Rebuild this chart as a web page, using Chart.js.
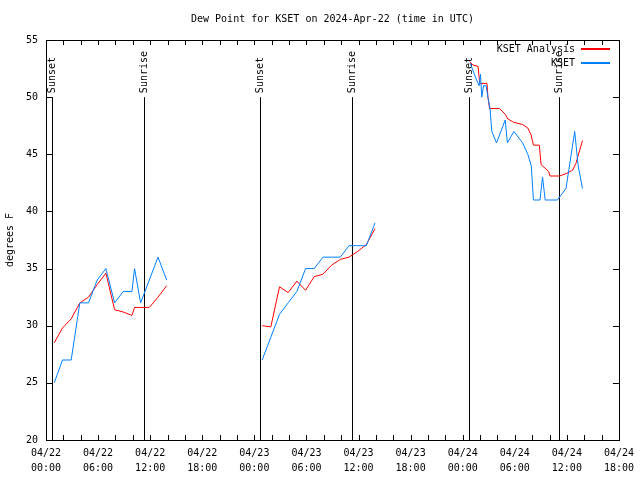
<!DOCTYPE html>
<html>
<head>
<meta charset="utf-8">
<title>Dew Point for KSET</title>
<script src="https://cdn.jsdelivr.net/npm/chart.js@4/dist/chart.umd.min.js"></script>
<style>
  html, body { margin: 0; padding: 0; background: #fff; }
  canvas { display: block; }
</style>
</head>
<body>
<canvas id="dew" width="640" height="480"></canvas>
<script>
// ---- data: hours since 04/22 00:00 UTC, null = gap between days ----
const obsHours = [0.95, 1.9, 2.9, 3.9, 4.9, 5.9, 6.9, 7.9, 8.9, 9.9, 10.2, 10.9, 11.9, 12.9, 13.9,
  19,
  24.9, 25.9, 26.9, 27.9, 28.9, 29.9, 30.9, 31.9, 32.9, 33.9, 34.9, 35.9, 36.9, 37.9,
  43,
  48.85, 49.6, 49.9, 50.05, 50.2, 50.4, 50.7, 50.9, 51.15, 51.35, 51.9, 52.9, 53.15, 53.9, 54.9,
  55.5, 55.9, 56.15, 56.9, 57.2, 57.5, 57.9, 58.9, 59.9, 60.9, 61.3, 61.8];
const obsDew = [25, 27, 27, 32, 32, 34, 35, 32, 33, 33, 35, 32, 34, 36, 34,
  null,
  27, 29, 31, 32, 33, 35, 35, 36, 36, 36, 37, 37, 37, 39,
  null,
  53, 51.5, 51, 52, 50, 51, 51, 50, 49, 47, 46, 48, 46, 47, 46,
  45, 44, 41, 41, 43, 41, 41, 41, 42, 47, 44, 42];

const anaHours = [0.95, 1.9, 2.9, 3.9, 4.9, 5.9, 6.9, 7.9, 8.9, 9.9, 10.2, 10.9, 11.9, 12.9, 13.9,
  19,
  24.9, 25.9, 26.9, 27.9, 28.9, 29.9, 30.9, 31.9, 32.9, 33.9, 34.9, 35.9, 36.9, 37.9,
  43,
  48.81, 49.19, 49.77, 49.96, 50.8, 50.91, 51.1, 52.25, 52.9, 53.2, 53.86, 54.92, 55.5, 55.88,
  56.15, 56.83, 57.03, 57.9, 58.06, 59.13, 59.9, 60.65, 61.04, 61.8];
const anaDew = [28.5, 29.8, 30.6, 32.0, 32.5, 33.6, 34.6, 31.4, 31.2, 30.9, 31.6, 31.6, 31.6, 32.5, 33.5,
  null,
  30.0, 29.9, 33.4, 32.9, 33.9, 33.1, 34.3, 34.5, 35.3, 35.8, 36.0, 36.5, 37.1, 38.5,
  null,
  53.1, 52.8, 52.7, 51.2, 51.2, 50.0, 49.0, 49.0, 48.5, 48.1, 47.8, 47.6, 47.3, 46.7,
  45.8, 45.8, 44.1, 43.5, 43.1, 43.1, 43.3, 43.6, 44.2, 46.2];

const sunsetHours = [0.67, 24.68, 48.68];
const sunriseHours = [11.25, 35.21, 59.15];

const tickDays = ['04/22', '04/23', '04/24'];
const tickTimes = ['00:00', '06:00', '12:00', '18:00'];

// ---- helpers ----
const mono = '"DejaVu Sans Mono", "Liberation Mono", monospace';
const RED = '#ff0000';
const BLUE = '#0080ff';
const pts = (xs, ys) => xs.map((x, i) => ({ x, y: ys[i] }));

// ---- gnuplot-like frame, ticks, sun lines, title, legend ----
const framePlugin = {
  id: 'frame',
  beforeDatasetsDraw(chart) {
    const { ctx, chartArea: a, scales: { x, y } } = chart;
    ctx.save();
    ctx.strokeStyle = '#000';
    ctx.lineWidth = 1;
    ctx.fillStyle = '#000';
    ctx.font = '10px ' + mono;
    const mark = (h, txt) => {
      const px = Math.round(x.getPixelForValue(h)) + 0.5;
      ctx.beginPath();
      ctx.moveTo(px, y.getPixelForValue(50));
      ctx.lineTo(px, a.bottom);
      ctx.stroke();
      ctx.save();
      ctx.translate(px, y.getPixelForValue(50) - 4);
      ctx.rotate(-Math.PI / 2);
      ctx.textAlign = 'left';
      ctx.textBaseline = 'middle';
      ctx.fillText(txt, 0, 0);
      ctx.restore();
    };
    sunsetHours.forEach(h => mark(h, 'Sunset'));
    sunriseHours.forEach(h => mark(h, 'Sunrise'));
    ctx.restore();
  },
  afterDatasetsDraw(chart) {
    const { ctx, chartArea: a, scales: { x, y } } = chart;
    ctx.save();
    ctx.strokeStyle = '#000';
    ctx.lineWidth = 1;
    ctx.beginPath();
    // x ticks every 2h, inward, bottom + top
    for (let h = 0; h <= 66; h += 2) {
      const px = Math.round(x.getPixelForValue(h)) + 0.5;
      ctx.moveTo(px, a.bottom); ctx.lineTo(px, a.bottom - 5);
      ctx.moveTo(px, a.top); ctx.lineTo(px, a.top + 5);
    }
    // y ticks every 5, inward, left + right
    for (let v = 20; v <= 55; v += 5) {
      const py = Math.round(y.getPixelForValue(v)) + 0.5;
      ctx.moveTo(a.left, py); ctx.lineTo(a.left + 6, py);
      ctx.moveTo(a.right, py); ctx.lineTo(a.right - 6, py);
    }
    ctx.stroke();
    ctx.strokeRect(Math.round(a.left) + 0.5, Math.round(a.top) + 0.5,
      Math.round(a.right - a.left), Math.round(a.bottom - a.top));

    ctx.fillStyle = '#000';
    ctx.font = '10px ' + mono;
    // title
    ctx.textAlign = 'center';
    ctx.textBaseline = 'middle';
    ctx.fillText('Dew Point for KSET on 2024-Apr-22 (time in UTC)', (a.left + a.right) / 2, 19);
    // y title
    ctx.save();
    ctx.translate(10, (a.top + a.bottom) / 2);
    ctx.rotate(-Math.PI / 2);
    ctx.fillText('degrees F', 0, 0);
    ctx.restore();
    // legend: text right-aligned, line sample after it
    ctx.textAlign = 'right';
    ctx.fillText('KSET Analysis', 575, 49);
    ctx.fillText('KSET', 575, 63);
    ctx.fillStyle = RED;
    ctx.fillRect(581, 48, 29, 2);
    ctx.fillStyle = BLUE;
    ctx.fillRect(581, 62, 29, 2);
    ctx.restore();
  }
};

// ---- chart ----
new Chart(document.getElementById('dew'), {
  type: 'line',
  data: {
    datasets: [
      { label: 'KSET', data: pts(obsHours, obsDew), borderColor: BLUE, borderWidth: 1,
        pointRadius: 0, tension: 0, spanGaps: false, order: 1 },
      { label: 'KSET Analysis', data: pts(anaHours, anaDew), borderColor: RED, borderWidth: 1,
        pointRadius: 0, tension: 0, spanGaps: false, order: 2 }
    ]
  },
  options: {
    responsive: false,
    animation: false,
    layout: { padding: { top: 40, right: 18, left: 0, bottom: 0 } },
    plugins: { legend: { display: false }, title: { display: false }, tooltip: { enabled: false } },
    scales: {
      x: {
        type: 'linear', min: 0, max: 66,
        afterFit: s => { s.height = 40; },
        afterBuildTicks: s => { s.ticks = []; for (let h = 0; h <= 66; h += 6) s.ticks.push({ value: h }); },
        grid: { display: false, drawTicks: false },
        border: { display: false },
        ticks: {
          autoSkip: false, maxRotation: 0, padding: 6, color: '#000',
          font: { family: mono, size: 10, lineHeight: 1.5 },
          callback: v => [tickDays[Math.floor(v / 24)] || '', tickTimes[(v % 24) / 6]]
        }
      },
      y: {
        min: 20, max: 55,
        afterFit: s => { s.width = 46; },
        grid: { display: false, drawTicks: false },
        border: { display: false },
        ticks: { stepSize: 5, padding: 8, color: '#000', font: { family: mono, size: 10 } }
      }
    }
  },
  plugins: [framePlugin]
});
</script>
</body>
</html>
